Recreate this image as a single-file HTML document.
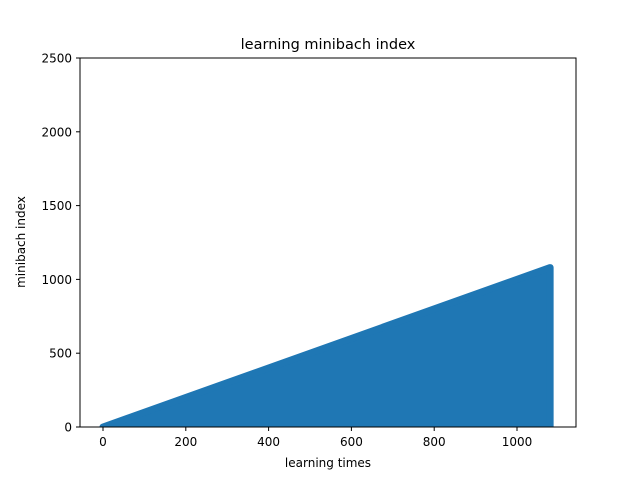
<!DOCTYPE html>
<html><head><meta charset="utf-8"><style>
body{margin:0;background:#fff;font-family:"Liberation Sans","DejaVu Sans",sans-serif;}
svg text{font-family:"DejaVu Sans","Liberation Sans",sans-serif;}
</style></head><body>
<svg id="chart" width="640" height="480" xmlns="http://www.w3.org/2000/svg">
<rect width="640" height="480" fill="#fff"/>
<text x="328" y="49" font-size="14.5" text-anchor="middle">learning minibach index</text>
<g id="marks"></g>
<rect x="80" y="58" width="496" height="369" fill="none" stroke="#000" stroke-width="1"/>
<g id="xticks"></g>
<g id="yticks"></g>
<text x="328" y="467" font-size="12" text-anchor="middle">learning times</text>
<text x="25" y="242" font-size="12" text-anchor="middle" transform="rotate(-90 25 242)">minibach index</text>
</svg>
<script>
const envelopeX = [0, 1080, 1080, 0];
const envelopeY = [0, 1080, 0, 0];
const xTickValues = [0, 200, 400, 600, 800, 1000];
const yTickValues = [0, 500, 1000, 1500, 2000, 2500];
const NS = "http://www.w3.org/2000/svg";
const xScale = v => 103 + v * 0.414;
const yScale = v => 427 - v * (369 / 2500);
const marks = document.getElementById('marks');
const poly = document.createElementNS(NS, 'polygon');
poly.setAttribute('points', envelopeX.map((x, i) => xScale(x) + ',' + yScale(envelopeY[i])).join(' '));
poly.setAttribute('fill', '#1f77b4');
poly.setAttribute('stroke', '#1f77b4');
poly.setAttribute('stroke-width', '7');
poly.setAttribute('stroke-linejoin', 'round');


marks.appendChild(poly);
const clip = document.createElementNS(NS, 'clipPath');
clip.setAttribute('id', 'pc');
const cr = document.createElementNS(NS, 'rect');
cr.setAttribute('x', 80); cr.setAttribute('y', 58); cr.setAttribute('width', 496); cr.setAttribute('height', 369);
clip.appendChild(cr);
document.getElementById('chart').appendChild(clip);
marks.setAttribute('clip-path', 'url(#pc)');
const xg = document.getElementById('xticks');
xTickValues.forEach(v => {
  const x = xScale(v);
  const l = document.createElementNS(NS, 'line');
  l.setAttribute('x1', x); l.setAttribute('x2', x); l.setAttribute('y1', 427); l.setAttribute('y2', 431);
  l.setAttribute('stroke', '#000');
  
  
  xg.appendChild(l);
  const t = document.createElementNS(NS, 'text');
  t.setAttribute('x', x); t.setAttribute('y', 446); t.setAttribute('font-size', '12'); t.setAttribute('text-anchor', 'middle');
  t.textContent = v;
  
  
  xg.appendChild(t);
});
const yg = document.getElementById('yticks');
yTickValues.forEach(v => {
  const y = yScale(v);
  const l = document.createElementNS(NS, 'line');
  l.setAttribute('x1', 76); l.setAttribute('x2', 80); l.setAttribute('y1', y); l.setAttribute('y2', y);
  l.setAttribute('stroke', '#000');
  
  
  yg.appendChild(l);
  const t = document.createElementNS(NS, 'text');
  t.setAttribute('x', 72); t.setAttribute('y', y + 4.5); t.setAttribute('font-size', '12'); t.setAttribute('text-anchor', 'end');
  t.textContent = v;
  
  
  yg.appendChild(t);
});
</script>
</body></html>
